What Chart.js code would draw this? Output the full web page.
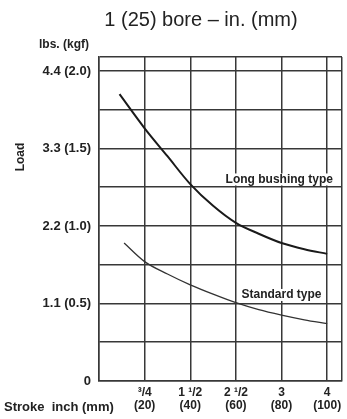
<!DOCTYPE html>
<html>
<head>
<meta charset="utf-8">
<script src="https://cdn.jsdelivr.net/npm/chart.js@4/dist/chart.umd.min.js"></script>
<style>
  html, body { margin: 0; padding: 0; background: #fff; }
  #wrap { width: 347px; height: 419px; }
</style>
</head>
<body>
<div id="wrap"><canvas id="grafico" width="347" height="419"></canvas></div>
<script>
// stroke (mm) and load (kgf)
const longStroke = [9, 20, 30, 40, 50, 60, 70, 80, 90, 100];
const longLoad = [1.85, 1.63, 1.45, 1.27, 1.13, 1.02, 0.95, 0.89, 0.85, 0.82];
const stdStroke = [11, 20, 30, 40, 50, 60, 70, 80, 90, 100];
const stdLoad = [0.89, 0.77, 0.69, 0.62, 0.56, 0.505, 0.46, 0.425, 0.395, 0.37];

// tick labels
const strokeMm = [20, 40, 60, 80, 100];
const strokeInch = ['³/4', '1 ¹/2', '2 ¹/2', '3', '4'];
const loadKgf = [0, 0.5, 1.0, 1.5, 2.0];
const loadLabels = ['0', '1.1 (0.5)', '2.2 (1.0)', '3.3 (1.5)', '4.4 (2.0)'];
const gridKgf = [0, 0.25, 0.5, 0.75, 1.0, 1.25, 1.5, 1.75, 2.0];

const seriesNames = ['Long bushing type', 'Standard type'];
const seriesLabelPos = [[79, 1.30], [80, 0.555]];

const FONT = '"Liberation Sans", Arial, sans-serif';
const INK = '#222';
const GRID = '#383838';

function punti(xs, ys) {
    return xs.map((x, i) => ({ x: x, y: ys[i] }));
}

const testiExtra = {
    id: 'testiExtra',
    afterDraw(chart) {
        const ctx = chart.ctx;
        const sx = chart.scales.x, sy = chart.scales.y;
        ctx.save();
        ctx.fillStyle = INK;
        ctx.textBaseline = 'middle';

        ctx.font = '20px ' + FONT;
        ctx.textAlign = 'center';
        ctx.fillText('1 (25) bore – in. (mm)', 201, 20);

        ctx.font = 'bold 12px ' + FONT;
        ctx.fillText('lbs. (kgf)', 64, 45);

        ctx.font = 'bold 13px ' + FONT;
        ctx.textAlign = 'left';
        ctx.fillText('Stroke  inch (mm)', 4, 407);

        ctx.save();
        ctx.translate(21, 157);
        ctx.rotate(-Math.PI / 2);
        ctx.textAlign = 'center';
        ctx.font = 'bold 12px ' + FONT;
        ctx.fillText('Load', 0, 0);
        ctx.restore();

        // etichette delle curve
        ctx.font = 'bold 12px ' + FONT;
        ctx.textAlign = 'center';
        seriesNames.forEach((nome, i) => {
            const p = seriesLabelPos[i];
            const px = sx.getPixelForValue(p[0]);
            const py = sy.getPixelForValue(p[1]);
            const w = ctx.measureText(nome).width;
            ctx.fillStyle = '#fff';
            ctx.fillRect(px - w / 2 - 1, py - 6, w + 2, 12);
            ctx.fillStyle = INK;
            ctx.fillText(nome, px, py);
        });
        ctx.restore();
    }
};

new Chart(document.getElementById('grafico'), {
    type: 'line',
    data: {
        datasets: [{
            label: seriesNames[0],
            data: punti(longStroke, longLoad),
            borderColor: '#1a1a1a',
            borderWidth: 2,
            pointRadius: 0,
            tension: 0.4,
            cubicInterpolationMode: 'monotone'
        }, {
            label: seriesNames[1],
            data: punti(stdStroke, stdLoad),
            borderColor: '#333',
            borderWidth: 1.3,
            pointRadius: 0,
            tension: 0.4,
            cubicInterpolationMode: 'monotone'
        }]
    },
    options: {
        responsive: false,
        animation: false,
        layout: { padding: { top: 57, right: 2, left: 0, bottom: 0 } },
        plugins: {
            legend: { display: false },
            tooltip: { enabled: false }
        },
        scales: {
            x: {
                type: 'linear',
                min: 0,
                max: 106.5,
                afterBuildTicks: (s) => {
                    s.ticks = [0].concat(strokeMm, [s.max]).map(v => ({ value: v }));
                },
                afterFit: (s) => { s.height = 38; },
                grid: { color: GRID, lineWidth: 1.5, drawTicks: false },
                border: { color: GRID, width: 1.5 },
                ticks: {
                    padding: 5,
                    autoSkip: false,
                    maxRotation: 0,
                    color: INK,
                    font: { family: FONT, size: 12, weight: 'bold', lineHeight: 1.1 },
                    callback: (v) => {
                        const i = strokeMm.indexOf(v);
                        return i < 0 ? '' : [strokeInch[i], '(' + strokeMm[i] + ')'];
                    }
                }
            },
            y: {
                min: 0,
                max: 2.09,
                afterBuildTicks: (s) => {
                    s.ticks = gridKgf.concat([s.max]).map(v => ({ value: v }));
                },
                afterFit: (s) => { s.width = 99; },
                grid: { color: GRID, lineWidth: 1.5, drawTicks: false },
                border: { color: GRID, width: 1.5 },
                ticks: {
                    padding: 8,
                    autoSkip: false,
                    color: INK,
                    font: { family: FONT, size: 13, weight: 'bold' },
                    callback: (v) => {
                        const i = loadKgf.indexOf(v);
                        return i < 0 ? '' : loadLabels[i];
                    }
                }
            }
        }
    },
    plugins: [testiExtra]
});
</script>
</body>
</html>
